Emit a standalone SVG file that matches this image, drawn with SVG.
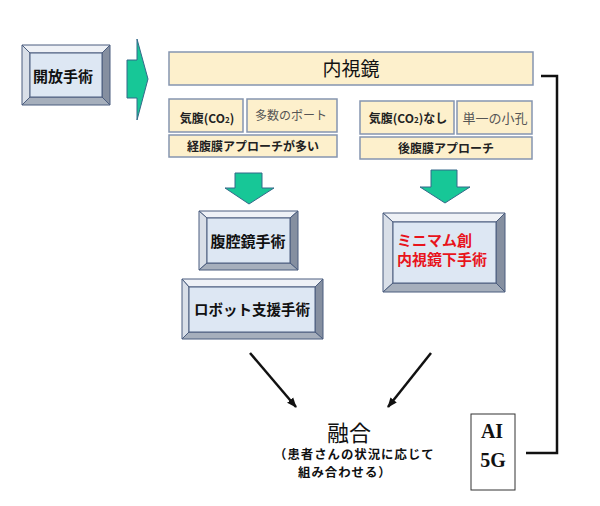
<svg xmlns="http://www.w3.org/2000/svg" width="600" height="506" viewBox="0 0 600 506">
<defs>
<style>
.bt{fill:#eef1f6;stroke:#4b5d7e;stroke-width:1}
.bl{fill:#d9dfe8;stroke:#4b5d7e;stroke-width:1}
.br{fill:#858fa0;stroke:#4b5d7e;stroke-width:1}
.bb{fill:#a6afbc;stroke:#4b5d7e;stroke-width:1}
.bf{fill:#dde7f3;stroke:#4b5d7e;stroke-width:1}
.cr{fill:#fdf0cc;stroke:#8595b0;stroke-width:1.5}
.g{fill:#17c797;stroke:#35698a;stroke-width:1}
.t{font-family:"Noto Sans CJK JP","Noto Sans",sans-serif;fill:#111}
.b{font-weight:bold}
.md{font-weight:bold;fill:#222}
.m{fill:#555;font-weight:normal}
.ln{stroke:#111;stroke-width:2.5;fill:none}
</style>
<marker id="ah" viewBox="0 0 10 10" refX="9" refY="5" markerWidth="4" markerHeight="4" orient="auto" markerUnits="strokeWidth">
<path d="M0,1 L10,5 L0,9 Z" fill="#111"/>
</marker>
</defs>
<rect width="600" height="506" fill="#fff"/>

<g id="kaiho">
<polygon class="bt" points="22,45 110,45 102,53 30,53"/>
<polygon class="bl" points="22,45 30,53 30,97 22,105"/>
<polygon class="br" points="110,45 110,105 102,97 102,53"/>
<polygon class="bb" points="22,105 30,97 102,97 110,105"/>
<rect class="bf" x="30" y="53" width="72" height="44"/>
<text class="t b" x="63" y="82" font-size="15" text-anchor="middle">開放手術</text>
</g>

<g id="naishikyo">
<rect class="cr" x="169" y="52" width="364" height="33"/>
<text class="t" x="351" y="76" font-size="19" text-anchor="middle">内視鏡</text>
</g>

<g id="left-group">
<rect class="cr" x="169" y="99" width="74" height="33"/>
<text class="t md" x="207" y="123" font-size="12" text-anchor="middle">気腹(CO<tspan font-size="8">2</tspan>)</text>
<rect class="cr" x="247" y="99" width="90" height="33"/>
<text class="t m" x="291" y="120" font-size="12" text-anchor="middle">多数のポート</text>
<rect class="cr" x="169" y="135" width="168" height="22"/>
<text class="t md" x="253" y="151" font-size="12" text-anchor="middle">経腹膜アプローチが多い</text>
</g>

<g id="right-group">
<rect class="cr" x="360" y="101" width="94" height="33"/>
<text class="t md" x="408" y="123" font-size="12" text-anchor="middle">気腹(CO<tspan font-size="8">2</tspan>)なし</text>
<rect class="cr" x="457" y="101" width="75" height="33"/>
<text class="t m" x="495" y="123" font-size="13" text-anchor="middle">単一の小孔</text>
<rect class="cr" x="360" y="137" width="172" height="22"/>
<text class="t md" x="446" y="153" font-size="12" text-anchor="middle">後腹膜アプローチ</text>
</g>

<g id="fukukukyo">
<polygon class="bt" points="199,211 298,211 290,218 207,218"/>
<polygon class="bl" points="199,211 207,218 207,263 199,270"/>
<polygon class="br" points="298,211 298,270 290,263 290,218"/>
<polygon class="bb" points="199,270 207,263 290,263 298,270"/>
<rect class="bf" x="207" y="218" width="83" height="45"/>
<text class="t b" x="248" y="247" font-size="15" text-anchor="middle">腹腔鏡手術</text>
</g>

<g id="robot">
<polygon class="bt" points="182,279 323,279 315,287 189,287"/>
<polygon class="bl" points="182,279 189,287 189,332 182,339"/>
<polygon class="br" points="323,279 323,339 315,332 315,287"/>
<polygon class="bb" points="182,339 189,332 315,332 323,339"/>
<rect class="bf" x="189" y="287" width="126" height="45"/>
<text class="t b" x="252" y="315" font-size="14.5" text-anchor="middle">ロボット支援手術</text>
</g>

<g id="minimum">
<polygon class="bt" points="383,213 505,213 496,222 393,222"/>
<polygon class="bl" points="383,213 393,222 393,283 383,292"/>
<polygon class="br" points="505,213 505,292 496,283 496,222"/>
<polygon class="bb" points="383,292 393,283 496,283 505,292"/>
<rect class="bf" x="393" y="222" width="103" height="61"/>
<text class="t b" x="397" y="246" font-size="15" style="fill:#e8141c">ミニマム創</text>
<text class="t b" x="397" y="265" font-size="15" style="fill:#e8141c">内視鏡下手術</text>
</g>

<g id="yugo">
<text class="t" x="349" y="441" font-size="22" text-anchor="middle">融合</text>
<text class="t b" x="274" y="459" font-size="12.4" letter-spacing="1">（患者さんの状況に応じて</text>
<text class="t b" x="298" y="477" font-size="12.4" letter-spacing="1">組み合わせる）</text>
</g>

<g id="ai5g">
<rect x="471" y="414" width="44" height="76" fill="#fff" stroke="#333" stroke-width="1"/>
<text x="492" y="438" font-family="Liberation Serif,serif" font-weight="bold" font-size="20" text-anchor="middle" fill="#111">AI</text>
<text x="493" y="467" font-family="Liberation Serif,serif" font-weight="bold" font-size="20" text-anchor="middle" fill="#111">5G</text>
</g>

<g id="connectors">
<polygon class="g" points="127,60 137,60 137,39 148,79 137,120 137,98 127,98"/>
<polygon class="g" points="235,173 262,173 262,188 274,188 249,204 225,188 235,188"/>
<polygon class="g" points="431,170 457,170 457,187 470,187 445,203 420,187 431,187"/>
<line class="ln" x1="250" y1="353" x2="296" y2="407" marker-end="url(#ah)"/>
<line class="ln" x1="431" y1="353" x2="388" y2="407" marker-end="url(#ah)"/>
<polyline class="ln" points="541,76 557,76 557,453 526,453"/>
</g>
</svg>
